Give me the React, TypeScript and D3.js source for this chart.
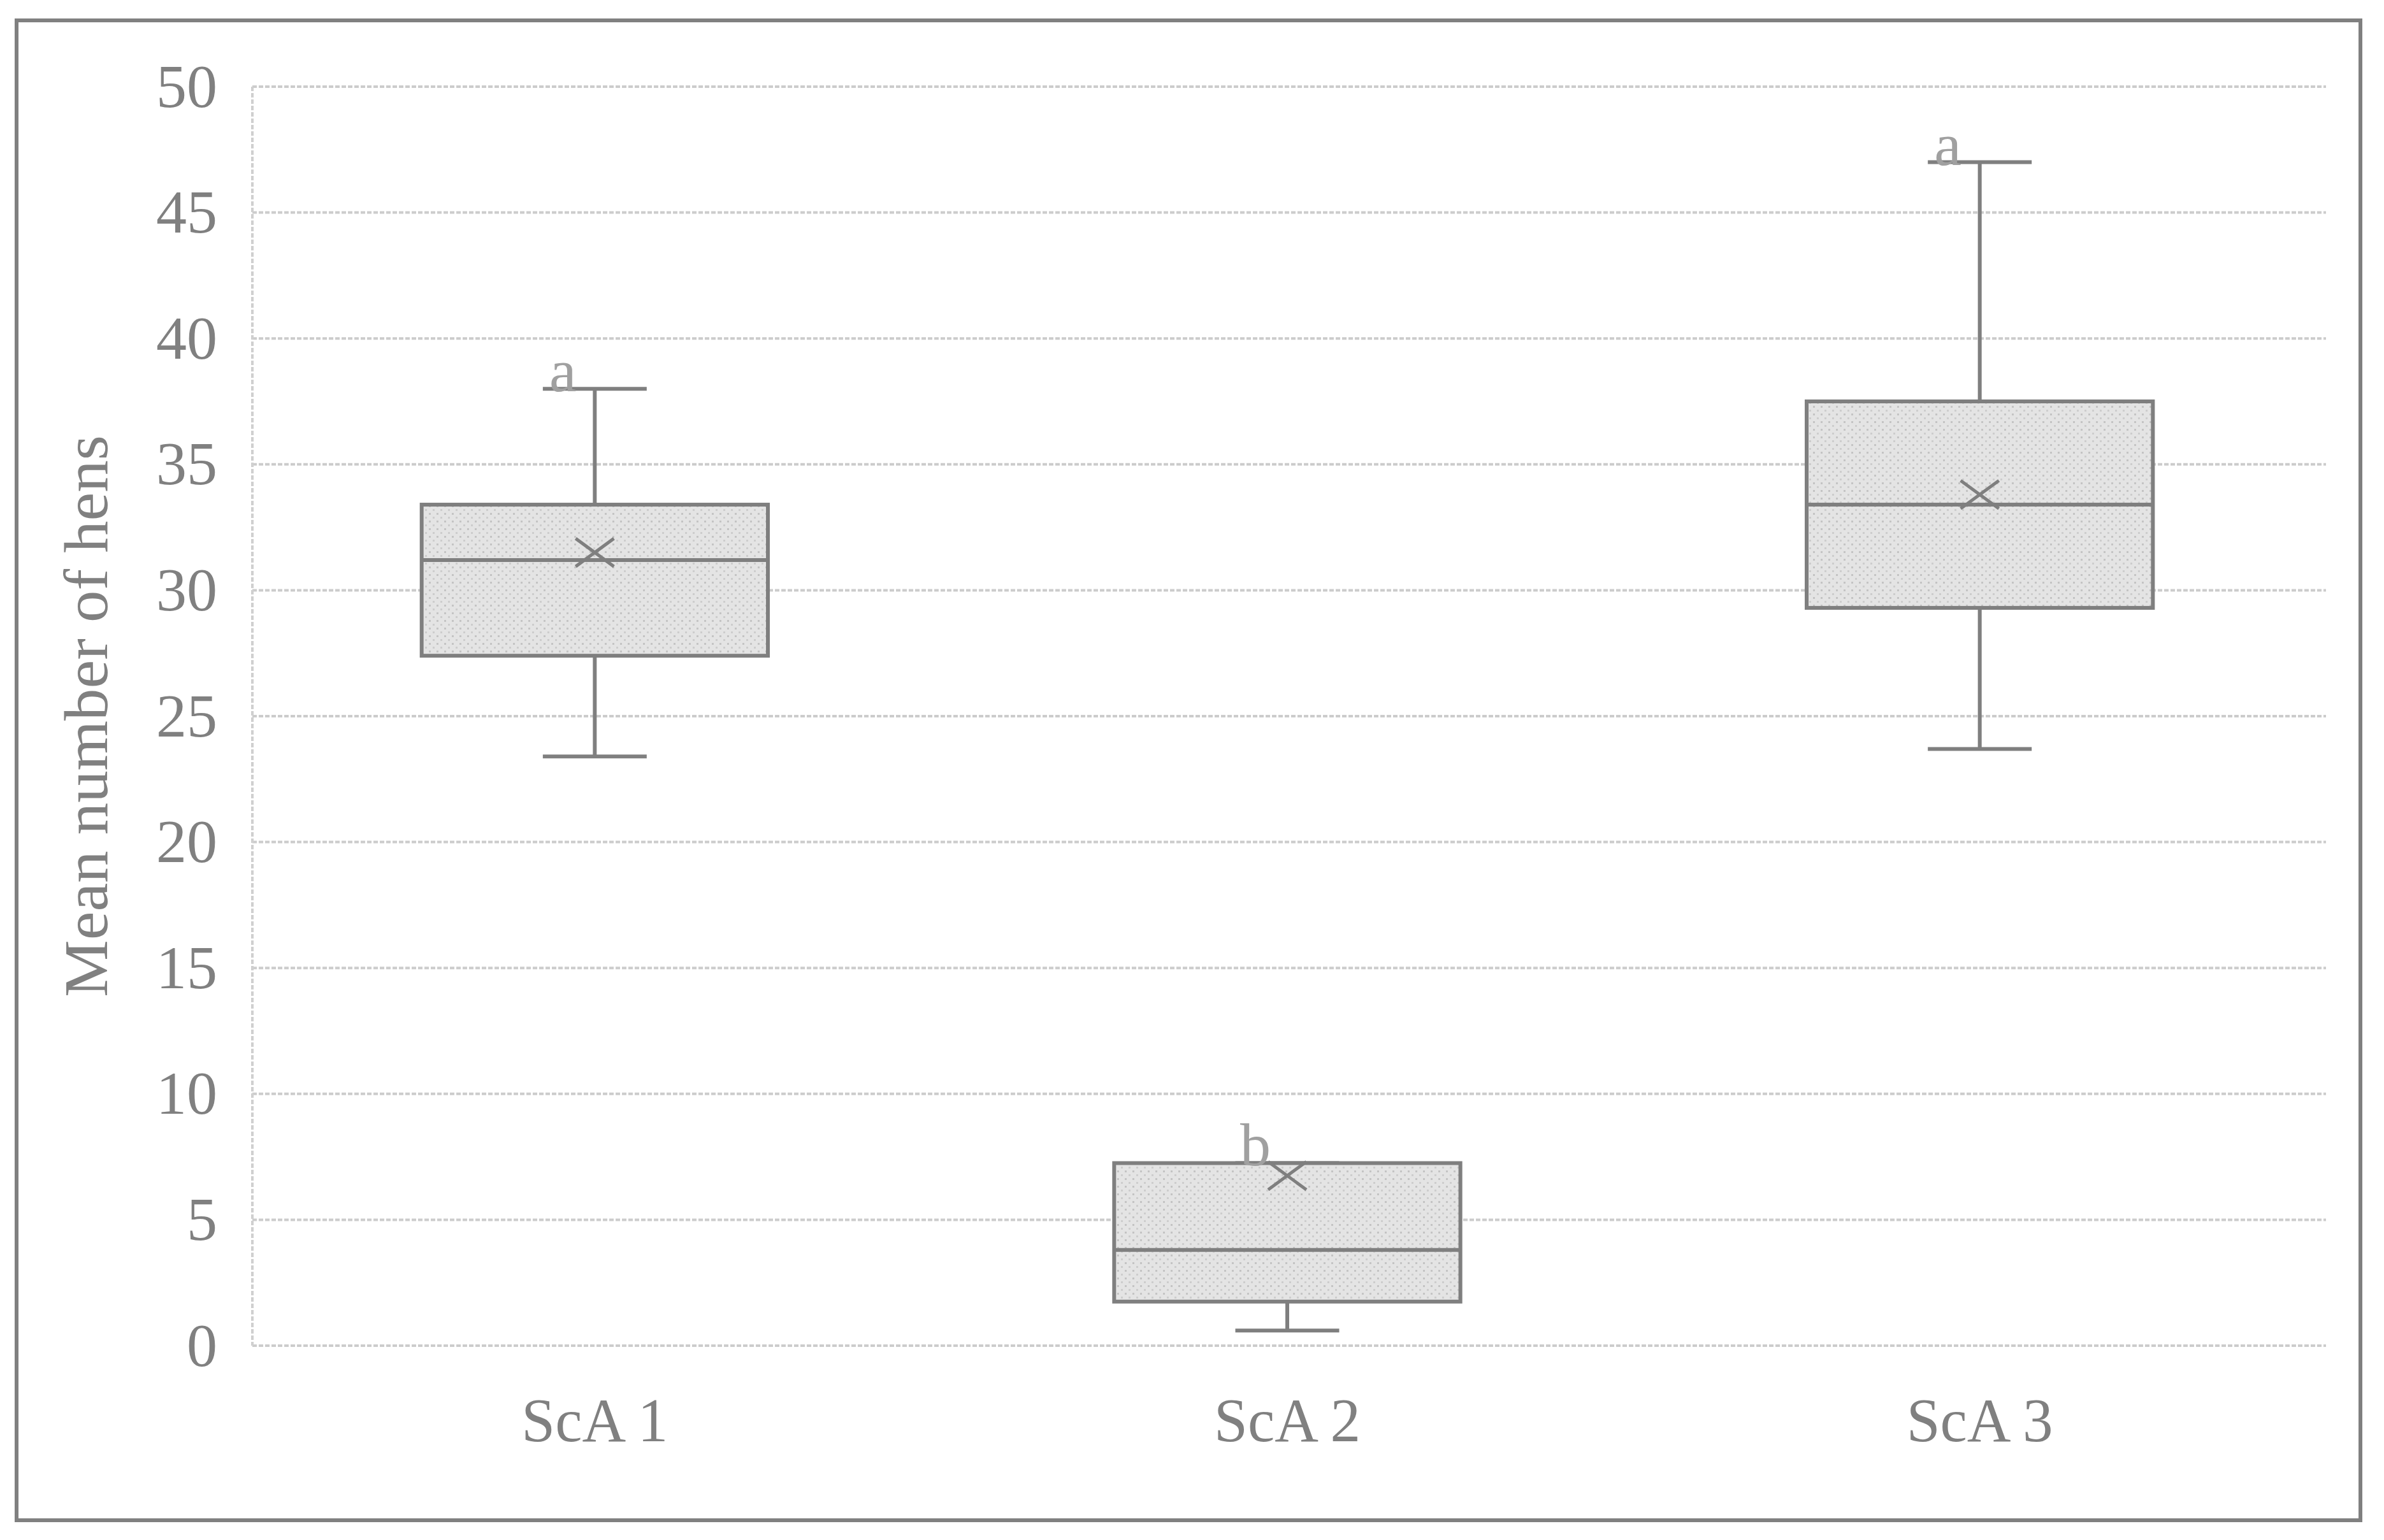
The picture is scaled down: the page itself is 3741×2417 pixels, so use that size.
import React from "react";
import * as d3 from "d3";

const categories = ["ScA 1", "ScA 2", "ScA 3"];
const minValues = [23.4, 0.6, 23.7];
const q1Values = [27.4, 1.75, 29.3];
const medianValues = [31.2, 3.8, 33.4];
const q3Values = [33.4, 7.25, 37.5];
const maxValues = [38, 7.25, 47];
const meanValues = [31.5, 6.75, 33.8];
const groupLetters = ["a", "b", "a"];
const yTicks = [0, 5, 10, 15, 20, 25, 30, 35, 40, 45, 50];
const yTitle = "Mean number of hens";

const W = 3741;
const H = 2417;
const left = 396;
const right = 3650;
const top = 136;
const bottom = 2112;
const FONT = "'Liberation Serif', 'DejaVu Serif', serif";
const TEXT = "#808080";
const STROKE = "#7f7f7f";

export default function App() {
  const x = d3.scaleBand<string>().domain(categories).range([left - 6, right]).padding(0);
  const y = d3.scaleLinear().domain([0, 50]).range([bottom, top]);
  const bw = x.bandwidth();
  const boxW = bw * 0.5;
  const capW = bw * 0.15;

  return (
    <svg
      width={W}
      height={H}
      viewBox={`0 0 ${W} ${H}`}
      style={{ position: "absolute", left: 0, top: 0, background: "#fff" }}
    >
      <defs>
        <pattern id="dots" width="12" height="12" patternUnits="userSpaceOnUse">
          <rect width="12" height="12" fill="#e4e4e4" />
          <rect x="1" y="1" width="3" height="3" fill="#c4c4c4" />
          <rect x="7" y="7" width="3" height="3" fill="#cdcdcd" />
        </pattern>
      </defs>
      <rect x={0} y={0} width={W} height={H} fill="#fff" />
      {/* outer frame */}
      <rect x={26} y={32} width={3678} height={2354} fill="none" stroke="#808080" strokeWidth={6} />

      {/* gridlines */}
      {yTicks.map((t) => (
        <line
          key={"g" + t}
          x1={left}
          x2={right}
          y1={y(t)}
          y2={y(t)}
          stroke="#cccccc"
          strokeWidth={4}
          strokeDasharray="7 3"
        />
      ))}
      {/* value axis line */}
      <line x1={left} x2={left} y1={top} y2={bottom} stroke="#d0d0d0" strokeWidth={4} strokeDasharray="7 3" />

      {/* tick labels */}
      {yTicks.map((t) => (
        <text
          key={"t" + t}
          x={341}
          y={y(t)}
          dy="0.33em"
          textAnchor="end"
          fontFamily={FONT}
          fontSize={96}
          fill={TEXT}
        >
          {t}
        </text>
      ))}

      {/* y title */}
      <text
        transform={`translate(136, ${(top + bottom) / 2}) rotate(-90)`}
        textAnchor="middle"
        dy="0.33em"
        fontFamily={FONT}
        fontSize={98}
        fill={TEXT}
        textLength={882}
        lengthAdjust="spacingAndGlyphs"
      >
        {yTitle}
      </text>

      {/* category labels */}
      {categories.map((c) => (
        <text
          key={"c" + c}
          x={(x(c) as number) + bw / 2}
          y={2262}
          textAnchor="middle"
          fontFamily={FONT}
          fontSize={98}
          fill={TEXT}
          textLength={230}
          lengthAdjust="spacingAndGlyphs"
        >
          {c}
        </text>
      ))}

      {/* boxes */}
      {categories.map((c, i) => {
        const cx = (x(c) as number) + bw / 2;
        const mx = cx;
        const my = y(meanValues[i]);
        return (
          <g key={"b" + c}>
            <line x1={cx} x2={cx} y1={y(maxValues[i])} y2={y(q3Values[i])} stroke={STROKE} strokeWidth={6} />
            <line x1={cx} x2={cx} y1={y(q1Values[i])} y2={y(minValues[i])} stroke={STROKE} strokeWidth={6} />
            <line x1={cx - capW / 2} x2={cx + capW / 2} y1={y(maxValues[i])} y2={y(maxValues[i])} stroke={STROKE} strokeWidth={6} />
            <line x1={cx - capW / 2} x2={cx + capW / 2} y1={y(minValues[i])} y2={y(minValues[i])} stroke={STROKE} strokeWidth={6} />
            <rect
              x={cx - boxW / 2}
              y={y(q3Values[i])}
              width={boxW}
              height={y(q1Values[i]) - y(q3Values[i])}
              fill="url(#dots)"
              stroke={STROKE}
              strokeWidth={6}
            />
            <line
              x1={cx - boxW / 2}
              x2={cx + boxW / 2}
              y1={y(medianValues[i])}
              y2={y(medianValues[i])}
              stroke={STROKE}
              strokeWidth={6}
            />
            <path
              d={`M${mx - 30},${my - 22}L${mx + 30},${my + 22}M${mx - 30},${my + 22}L${mx + 30},${my - 22}`}
              stroke={STROKE}
              strokeWidth={5}
              fill="none"
            />
            <text
              x={cx - 50}
              y={y(maxValues[i]) + 4}
              textAnchor="middle"
              fontFamily={FONT}
              fontSize={96}
              fill="#a0a0a0"
            >
              {groupLetters[i]}
            </text>
          </g>
        );
      })}
    </svg>
  );
}
